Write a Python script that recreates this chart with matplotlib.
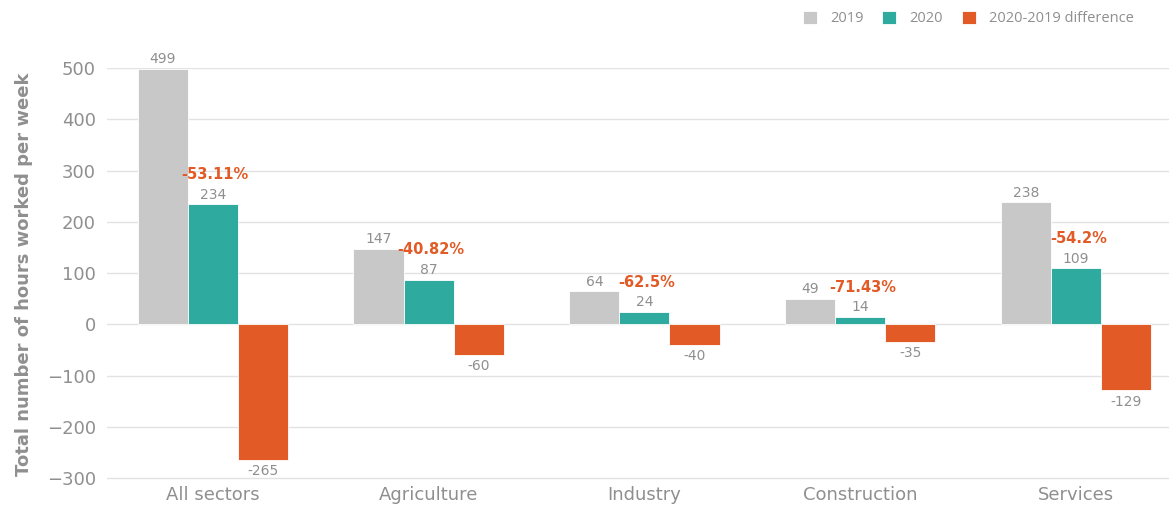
import matplotlib.pyplot as plt
import numpy as np

sectors = ["All sectors", "Agriculture", "Industry", "Construction", "Services"]
hours_2019 = [499, 147, 64, 49, 238]
hours_2020 = [234, 87, 24, 14, 109]
difference = [-265, -60, -40, -35, -129]
pct_change = ["-53.11%", "-40.82%", "-62.5%", "-71.43%", "-54.2%"]

GREY = "#c8c8c8"
TEAL = "#2eaa9e"
ORANGE = "#e25a26"
TEXT = "#8f8f8f"

fig = plt.figure(figsize=(11.69, 5.08), dpi=100)
ax = fig.add_axes([0.0915, 0.055, 0.9085, 0.811])

x = np.arange(len(sectors))
w = 0.232
b19 = ax.bar(x - w, hours_2019, w, color=GREY, edgecolor="white", linewidth=0.6, label="2019", zorder=3)
b20 = ax.bar(x, hours_2020, w, color=TEAL, edgecolor="white", linewidth=0.6, label="2020", zorder=3)
bd = ax.bar(x + w, difference, w, color=ORANGE, edgecolor="white", linewidth=0.6,
            label="2020-2019 difference", zorder=3)

for bars in (b19, b20, bd):
    for rect in bars:
        h = rect.get_height()
        cx = rect.get_x() + rect.get_width() / 2
        if h >= 0:
            ax.annotate(f"{h:.0f}", (cx, h), xytext=(0, 2), textcoords="offset points",
                        ha="center", va="bottom", fontsize=10, color=TEXT, clip_on=False)
        else:
            ax.annotate(f"{h:.0f}", (cx, h), xytext=(0, -3), textcoords="offset points",
                        ha="center", va="top", fontsize=10, color=TEXT, clip_on=False)

for xi, v, p in zip(x, hours_2020, pct_change):
    ax.annotate(p, (xi + 0.01, v), xytext=(0, 16), textcoords="offset points",
                ha="center", va="bottom", fontsize=10.5, color=ORANGE, fontweight="bold")

ax.set_xlim(-0.49, 4.43)
ax.set_ylim(-304, 500)
ax.set_yticks(range(-300, 501, 100))
ax.set_xticks(x)
ax.set_xticklabels(sectors)
ax.tick_params(axis="both", length=0, colors=TEXT, labelsize=13)
ax.tick_params(axis="x", pad=4)
ax.tick_params(axis="y", pad=8)
ax.grid(axis="y", color="#e2e2e2", linewidth=1, zorder=0)
for s in ax.spines.values():
    s.set_visible(False)
ax.set_ylabel("Total number of hours worked per week", fontsize=13, fontweight="bold",
              color=TEXT, labelpad=10)

fig.legend(handles=[b19, b20, bd], loc="upper right", bbox_to_anchor=(0.981, 1.005), ncol=3,
           frameon=False, labelcolor=TEXT, handlelength=0.95, handleheight=1.0,
           columnspacing=1.3, handletextpad=0.9, prop={"family": "Open Sans", "size": 10.5})

fig.savefig("out.png", dpi=100)
